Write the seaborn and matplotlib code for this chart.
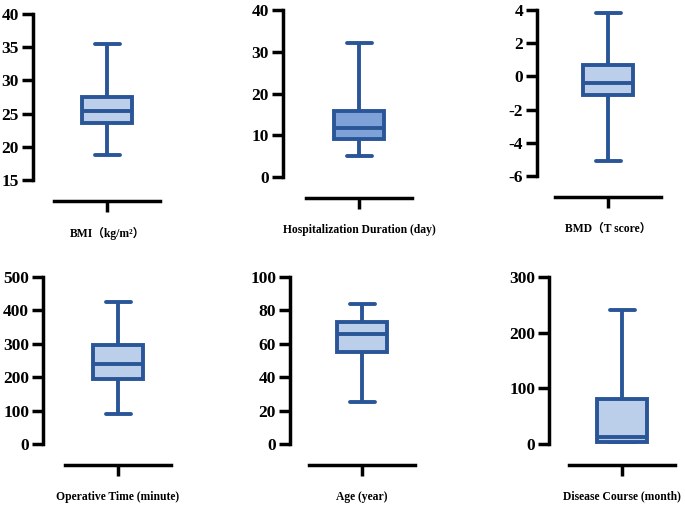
import matplotlib
matplotlib.use("Agg")
import matplotlib.pyplot as plt
import numpy as np
import pandas as pd
import seaborn as sns

# five-number summaries: min, Q1, median, Q3, max
labels = [
    "BMI（kg/m²）",
    "Hospitalization Duration (day)",
    "BMD（T score）",
    "Operative Time (minute)",
    "Age (year)",
    "Disease Course (month)",
]
bmi = [18.8, 23.6, 25.4, 27.5, 35.5]
hosp_days = [5.0, 9.2, 11.8, 15.7, 32.0]
bmd = [-5.1, -1.1, -0.4, 0.7, 3.8]
op_time = [90, 195, 240, 295, 425]
age = [25, 55, 66, 73, 84]
disease_course = [1, 3, 12, 80, 240]
summaries = [bmi, hosp_days, bmd, op_time, age, disease_course]

y_ticks = [
    np.arange(15, 41, 5),
    np.arange(0, 41, 10),
    np.arange(-6, 5, 2),
    np.arange(0, 501, 100),
    np.arange(0, 101, 20),
    np.arange(0, 301, 100),
]

edge = "#2a5597"
fill_light = "#bccfea"
fill_dark = "#7ea2d8"
fills = [fill_light, fill_dark, fill_light, fill_light, fill_light, fill_light]

# pixel layout: y spine x, top tick y, bottom tick y, box centre x
layout = [
    (33, 14, 180, 107),
    (283, 10, 177, 359),
    (537, 10, 176, 608),
    (43, 277, 444, 118),
    (290, 277, 444, 362),
    (549, 277, 444, 622),
]

W, H = 685, 507
sns.set_style("ticks")
plt.rcParams["font.family"] = ["Liberation Serif", "Noto Sans CJK SC"]
plt.rcParams["font.weight"] = "bold"
plt.rcParams["axes.unicode_minus"] = False
plt.rcParams["text.color"] = "black"
plt.rcParams["xtick.color"] = "black"
plt.rcParams["ytick.color"] = "black"
plt.rcParams["axes.edgecolor"] = "black"

fig = plt.figure(figsize=(W / 100, H / 100), dpi=100)

half = 0.53
for lab, vals, ticks, fc, (L, top, bot, c) in zip(labels, summaries, y_ticks, fills, layout):
    right = c + 53
    ax = fig.add_axes([L / W, (H - bot) / H, (right - L) / W, (bot - top) / H])
    df = pd.DataFrame({"group": [lab] * len(vals), "value": vals})
    sns.boxplot(data=df, x="group", y="value", ax=ax, whis=(0, 100), width=0.5,
                color=fc, saturation=1, linecolor=edge, linewidth=2.8,
                showfliers=False)
    ax.set_xlim((L - c) * 0.01, half)
    ax.set_ylim(ticks[0], ticks[-1])
    ax.set_yticks(ticks)
    ax.set_xlabel("")
    ax.set_ylabel("")
    sns.despine(ax=ax)
    for side in ("left", "bottom"):
        ax.spines[side].set_linewidth(2.5)
        ax.spines[side].set_color("black")
    ax.spines["bottom"].set_position(("outward", 15))
    ax.spines["bottom"].set_bounds(-half, half)
    ax.tick_params(axis="y", length=8, width=2.5, pad=2, labelsize=12.5, colors="black")
    ax.tick_params(axis="x", length=8, width=2.5, pad=10.5, labelsize=8.4, colors="black")
    for t in ax.get_yticklabels() + ax.get_xticklabels():
        t.set_fontweight("bold")

fig.savefig("out.png", dpi=100)
